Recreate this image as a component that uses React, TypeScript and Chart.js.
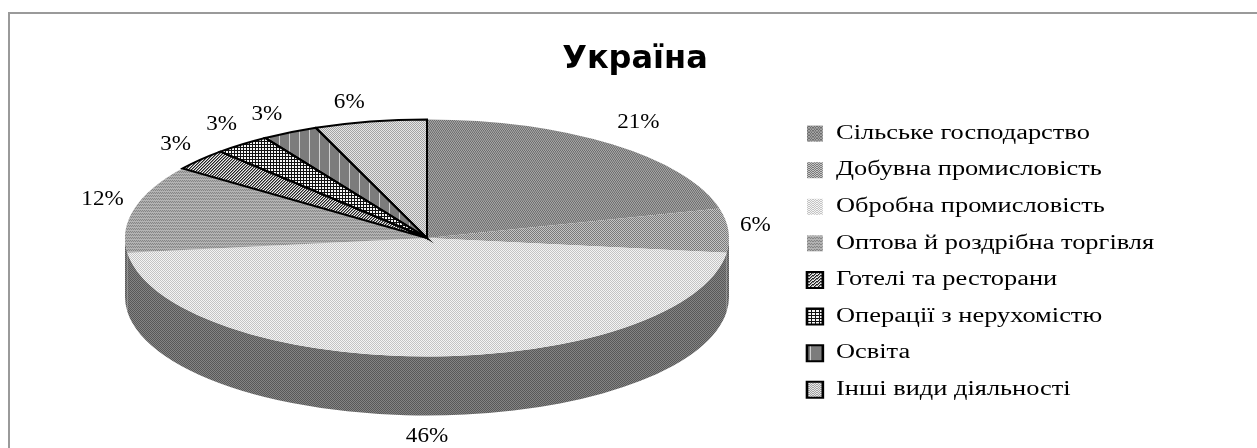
import React, { useEffect, useRef } from "react";
import { Chart, registerables } from "chart.js";

Chart.register(...registerables);

const categories = [
  "Сільське господарство",
  "Добувна промисловість",
  "Обробна промисловість",
  "Оптова й роздрібна торгівля",
  "Готелі та ресторани",
  "Операції з нерухомістю",
  "Освіта",
  "Інші види діяльності",
];
const shares = [21, 6, 46, 12, 3, 3, 3, 6];
const titleText = "Україна";
const sliceBorders = [false, false, false, false, true, true, true, true];
const patternNames = ["dark", "dense", "light", "weave", "diag", "grid", "vert", "dots"];
// nudges of each percent label from its radial position, in pixels
const labelNudgeX = [6, -6, 0, 0, 0, 0, -8, -15];
const labelNudgeY = [-2, -4, -4, -3, 1, 0, 4, 5];

const W = 1257;
const H = 448;
const CX = 427;
const CY = 238;
const RX = 302;
const RY = 118.5;
const DEPTH = 59;
const LEGEND_X = 807;
const LEGEND_PAD = 16.6;
const LEGEND_STRETCH = 1.32;

function tile(rows: string[], pal: Record<string, string>) {
  const c = document.createElement("canvas");
  c.width = rows[0].length;
  c.height = rows.length;
  const x = c.getContext("2d")!;
  rows.forEach((r, j) => {
    [...r].forEach((ch, i) => {
      x.fillStyle = pal[ch];
      x.fillRect(i, j, 1, 1);
    });
  });
  return c;
}

const tiles: Record<string, HTMLCanvasElement> = {};
function getTiles() {
  if (tiles.dark) return tiles;
  tiles.dark = tile(["ab", "ba", "cc"], { a: "#6e6e6e", b: "#a6a6a6", c: "#8c8c8c" });
  tiles.dense = tile(["ab", "ba"], { a: "#7a7a7a", b: "#c4c4c4" });
  tiles.light = tile(["ab", "ba"], { a: "#c4c4c4", b: "#f4f4f4" });
  tiles.weave = tile(["ab", "ba", "cc"], { a: "#868686", b: "#aeaeae", c: "#b4b4b4" });
  tiles.diag = tile(["abc", "bca", "cab"], { a: "#222222", b: "#888888", c: "#eeeeee" });
  tiles.grid = tile(["aaa", "abb", "abb"], { a: "#111111", b: "#f6f6f6" });
  tiles.vert = tile(["aaaaaaaaab"], { a: "#7c7c7c", b: "#d0d0d0" });
  tiles.dots = tile(["ab", "ba"], { a: "#a4a4a4", b: "#e6e6e6" });
  tiles.wall = tile(["ab", "ba"], { a: "#585858", b: "#848484" });
  return tiles;
}

function makePattern(ctx: CanvasRenderingContext2D, name: string, squashed: boolean) {
  const p = ctx.createPattern(getTiles()[name], "repeat")!;
  if (squashed) {
    // exact inverse of squash() so the texture lands on whole pixels
    p.setTransform(new DOMMatrix().translate(CX, CY).scale(1, RX / RY).translate(-CX, -CY));
  }
  return p;
}

function squash(ctx: CanvasRenderingContext2D, x: number, y: number) {
  ctx.translate(x, y);
  ctx.scale(1, RY / RX);
  ctx.translate(-x, -y);
}

function stretchedDraw(ctx: CanvasRenderingContext2D, orig: any, self: any) {
  ctx.save();
  ctx.translate(LEGEND_X, 0);
  ctx.scale(LEGEND_STRETCH, 1);
  ctx.translate(-LEGEND_X, 0);
  orig.call(self);
  ctx.restore();
}

const pie3d = {
  id: "pie3d",
  beforeDraw(chart: any) {
    const { ctx } = chart;
    ctx.imageSmoothingEnabled = false;
    ctx.save();
    ctx.fillStyle = "#ffffff";
    ctx.fillRect(0, 0, W, H);
    ctx.strokeStyle = "#9a9a9a";
    ctx.lineWidth = 2;
    ctx.beginPath();
    ctx.moveTo(9, H);
    ctx.lineTo(9, 13);
    ctx.lineTo(W, 13);
    ctx.stroke();
    ctx.restore();
  },
  afterLayout(chart: any) {
    const a = chart.chartArea;
    a.left = 0;
    a.right = CX * 2;
    a.top = 0;
    a.bottom = CY * 2;
    a.width = CX * 2;
    a.height = CY * 2;
    const t = chart.titleBlock;
    t.left = 528;
    t.right = 742;
    t.width = t.right - t.left;
    t.top = 40;
    t.bottom = 80;
    const l = chart.legend;
    l.left = LEGEND_X - LEGEND_PAD;
    l.right = W;
    l.width = l.right - l.left;
    l.top = 107;
    l.bottom = 470;
    l.height = l.bottom - l.top;
    if (!l.__stretched) {
      l.__stretched = true;
      const orig = l.draw;
      l.draw = function () {
        stretchedDraw(this.ctx, orig, this);
      };
    }
  },
  beforeDatasetDraw(chart: any, args: any) {
    const { ctx } = chart;
    const arcs = args.meta.data;
    const first = arcs[0];
    ctx.save();
    // side wall: the part of each slice's rim that faces the viewer
    ctx.fillStyle = makePattern(ctx, "wall", false);
    for (const arc of arcs) {
      const { startAngle, endAngle, outerRadius, x, y } = arc.getProps(["startAngle", "endAngle", "outerRadius", "x", "y"], true);
      const a0 = Math.max(startAngle, 0);
      const a1 = Math.min(endAngle, Math.PI);
      if (a1 <= a0) continue;
      const ry = (outerRadius * RY) / RX;
      ctx.beginPath();
      ctx.ellipse(x, y, outerRadius, ry, 0, a0, a1);
      ctx.ellipse(x, y + DEPTH, outerRadius, ry, 0, a1, a0, true);
      ctx.closePath();
      ctx.fill();
    }
    squash(ctx, first.x, first.y);
  },
  afterDatasetDraw(chart: any, args: any) {
    const { ctx } = chart;
    ctx.restore();
    // slice outlines at an even stroke width
    const arcs = args.meta.data;
    arcs.forEach((arc: any, i: number) => {
      if (!sliceBorders[i]) return;
      const { startAngle, endAngle, outerRadius, x, y } = arc.getProps(["startAngle", "endAngle", "outerRadius", "x", "y"], true);
      ctx.save();
      squash(ctx, x, y);
      ctx.beginPath();
      ctx.moveTo(x, y);
      ctx.arc(x, y, outerRadius, startAngle, endAngle);
      ctx.closePath();
      ctx.restore();
      ctx.save();
      ctx.strokeStyle = "#000000";
      ctx.lineWidth = 2;
      ctx.stroke();
      ctx.restore();
    });
    // percent labels
    ctx.save();
    ctx.font = "21px 'Liberation Serif'";
    ctx.fillStyle = "#000000";
    ctx.textAlign = "center";
    ctx.textBaseline = "middle";
    arcs.forEach((arc: any, i: number) => {
      const { startAngle, endAngle, x, y } = arc.getProps(["startAngle", "endAngle", "x", "y"], true);
      const mid = (startAngle + endAngle) / 2;
      const c = Math.cos(mid);
      const s = Math.sin(mid);
      const lx = x + c * (RX + 33) + labelNudgeX[i];
      const ly = y + s * (RY + 25) + (s > 0.5 ? DEPTH : 0) + labelNudgeY[i];
      ctx.save();
      ctx.translate(lx, ly);
      ctx.scale(1.1, 1);
      ctx.fillText(shares[i] + "%", 0, 0);
      ctx.restore();
    });
    ctx.restore();
  },
};

export default function App() {
  const ref = useRef<HTMLCanvasElement>(null);
  useEffect(() => {
    const canvas = ref.current!;
    const ctx = canvas.getContext("2d")!;
    const chart = new Chart(canvas, {
      type: "pie",
      data: {
        labels: categories,
        datasets: [
          {
            data: shares,
            backgroundColor: patternNames.map((n) => makePattern(ctx, n, true)),
            borderWidth: 0,
            radius: RX,
            clip: false,
          } as any,
        ],
      },
      options: {
        responsive: false,
        animation: false,
        layout: { padding: 0 },
        plugins: {
          tooltip: { enabled: false },
          title: {
            display: true,
            text: titleText,
            color: "#000000",
            font: { family: "'DejaVu Sans'", size: 32, weight: "bold" },
            padding: 0,
            position: "top",
          },
          legend: {
            display: true,
            position: "right",
            align: "start",
            labels: {
              font: { family: "'Liberation Serif'", size: 20 },
              color: "#000000",
              boxWidth: 12,
              boxHeight: 16,
              padding: LEGEND_PAD,
              generateLabels: () =>
                categories.map((text, i) => ({
                  text,
                  fillStyle: makePattern(ctx, patternNames[i], false),
                  strokeStyle: "#000000",
                  lineWidth: sliceBorders[i] ? 2 : 0,
                  hidden: false,
                  index: i,
                })),
            },
          },
        },
      } as any,
      plugins: [pie3d as any],
    });
    return () => chart.destroy();
  }, []);
  return (
    <div style={{ position: "absolute", left: 0, top: 0, width: W, height: H, overflow: "hidden" }}>
      <canvas ref={ref} width={W} height={H} style={{ display: "block" }} />
    </div>
  );
}
